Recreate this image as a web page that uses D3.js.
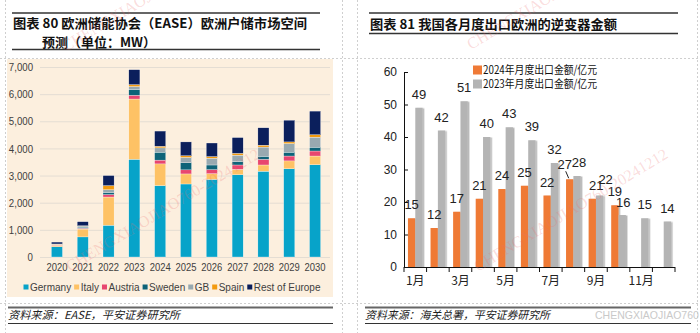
<!DOCTYPE html>
<html lang="zh">
<head>
<meta charset="UTF-8">
<title>欧洲户储市场空间与逆变器出口</title>
<script src="https://d3js.org/d3.v7.min.js"></script>
<style>
    body { margin: 0; background: #fff; }
    svg { display: block; font-family: "Liberation Sans", Arial, sans-serif; }
    .title { font-family: "Noto Sans CJK SC", sans-serif; font-weight: bold; font-size: 13px; fill: #111; }
    .source { font-family: "Noto Sans CJK SC", sans-serif; font-style: italic; font-size: 11px; fill: #222; }
    .frame { stroke: #cfcfcf; stroke-dasharray: 2,2; fill: none; }
    .watermark { font-family: "Liberation Serif", serif; font-size: 16px; fill: rgba(236, 110, 110, 0.24); }
    .left-axis text { font-family: "Liberation Sans", Arial, sans-serif; font-size: 11.5px; fill: #404040; }
    .right-axis text { font-family: "Liberation Sans", Arial, sans-serif; font-size: 12px; fill: #222; }
    .bar-label { font-size: 13px; fill: #222; text-anchor: middle; }
</style>
</head>
<body>
<svg width="700" height="333"></svg>
<script>
// European residential storage outlook (MW)
const years = ["2020", "2021", "2022", "2023", "2024", "2025", "2026", "2027", "2028", "2029", "2030"];
const germany = [380, 740, 1170, 3600, 2630, 2690, 2860, 3030, 3160, 3250, 3400];
const italy = [50, 290, 1040, 2220, 800, 370, 210, 200, 230, 290, 320];
const austria = [15, 30, 90, 140, 140, 150, 150, 160, 210, 180, 185];
const sweden = [10, 40, 80, 210, 290, 260, 170, 120, 110, 140, 140];
const gb = [15, 40, 100, 110, 160, 200, 250, 240, 340, 320, 370];
const spain = [10, 10, 150, 70, 60, 60, 60, 70, 70, 60, 90];
const restOfEurope = [70, 150, 370, 550, 560, 510, 500, 580, 640, 800, 870];
const countries = ["Germany", "Italy", "Austria", "Sweden", "GB", "Spain", "Rest of Europe"];
const storageTicks = [0, 1000, 2000, 3000, 4000, 5000, 6000, 7000];

// Monthly inverter exports to Europe (亿元)
const months = ["1月", "2月", "3月", "4月", "5月", "6月", "7月", "8月", "9月", "10月", "11月", "12月"];
const export2024 = [15, 12, 17, 21, 24, 25, 22, 27, 21, 19, null, null];
const export2023 = [49, 42, 51, 40, 43, 39, 32, 28, 22, 16, 15, 14];
const exportTicks = [0, 10, 20, 30, 40, 50, 60];
const exportSeries = ["2024年月度出口金额/亿元", "2023年月度出口金额/亿元"];

const countryColors = ["#07a3c9", "#fec265", "#e8466f", "#0d6378", "#98a9b0", "#f39a0e", "#0b1f5c"];
const seriesColors = ["#ef7a36", "#b4b4b4"];

const svg = d3.select("svg");

// drop shadow used on the monthly bars
svg.append("defs").append("filter")
    .attr("id", "shadow")
    .attr("x", "-20%").attr("y", "-5%").attr("width", "160%").attr("height", "110%")
    .append("feDropShadow")
    .attr("dx", 1.5).attr("dy", 0.5).attr("stdDeviation", 0.4)
    .attr("flood-color", "#000").attr("flood-opacity", 0.3);

// dotted page frame
[5, 342, 357, 697].forEach(x => {
    svg.append("line").attr("class", "frame")
        .attr("x1", x + 0.5).attr("x2", x + 0.5).attr("y1", 0).attr("y2", 333);
});
[58, 303].forEach(y => {
    svg.append("line").attr("class", "frame")
        .attr("x1", 0).attr("x2", 700).attr("y1", y + 0.5).attr("y2", y + 0.5);
});

function rule(x1, x2, y, w, color) {
    svg.append("line")
        .attr("x1", x1).attr("x2", x2).attr("y1", y).attr("y2", y)
        .attr("stroke", color).attr("stroke-width", w);
}

// text fitted to a fixed run length
function fitted(cls, x, y, str, len) {
    return svg.append("text").attr("class", cls).attr("x", x).attr("y", y)
        .attr("textLength", len).attr("lengthAdjust", "spacingAndGlyphs")
        .text(str);
}

// squeeze axis labels horizontally, like a narrow face
function narrow(sel, k) {
    sel.each(function () {
        const w = this.getComputedTextLength();
        d3.select(this).attr("textLength", w * k).attr("lengthAdjust", "spacingAndGlyphs");
    });
}

// ---------- left panel: stacked bars ----------
rule(12, 320, 13, 1.5, "#333");
rule(12, 320, 49.5, 1.5, "#333");
fitted("title", 13, 28, "图表 80  欧洲储能协会（EASE）欧洲户储市场空间", 294);
svg.append("text").attr("class", "title").attr("x", 42).attr("y", 47)
    .text("预测（单位：MW）");

svg.append("rect")
    .attr("x", 7).attr("y", 59).attr("width", 326).attr("height", 238)
    .attr("fill", "#fcefde");

const storageRows = years.map((y, i) => ({
    year: y,
    Germany: germany[i], Italy: italy[i], Austria: austria[i], Sweden: sweden[i],
    GB: gb[i], Spain: spain[i], "Rest of Europe": restOfEurope[i]
}));
const stacked = d3.stack().keys(countries)(storageRows);

const xLeft = d3.scaleBand().domain(years).range([44, 328]).paddingInner(0.57).paddingOuter(0.285);
const yLeft = d3.scaleLinear().domain([0, 7000]).range([257, 67]);

svg.append("g")
    .attr("class", "left-axis")
    .attr("transform", "translate(40,0)")
    .call(d3.axisLeft(yLeft).tickValues(storageTicks).tickFormat(d3.format(",")).tickSize(-290).tickPadding(7))
    .call(g => g.select(".domain").remove())
    .call(g => g.selectAll(".tick line").attr("stroke", "#e4ddd3"))
    .call(g => narrow(g.selectAll("text"), 0.84));

svg.append("g")
    .selectAll("g")
    .data(stacked)
    .join("g")
    .attr("fill", (d, i) => countryColors[i])
    .selectAll("rect")
    .data(d => d)
    .join("rect")
    .attr("x", d => xLeft(d.data.year))
    .attr("width", xLeft.bandwidth())
    .attr("y", d => yLeft(d[1]))
    .attr("height", d => yLeft(d[0]) - yLeft(d[1]))
    .attr("stroke", "#fff")
    .attr("stroke-width", 0.3);

svg.append("g")
    .attr("class", "left-axis")
    .attr("transform", "translate(0,257)")
    .call(d3.axisBottom(xLeft).tickSize(0).tickPadding(6))
    .call(g => g.select(".domain").remove())
    .call(g => g.selectAll("text").style("font-size", "11.5px").attr("fill", "#333"))
    .call(g => narrow(g.selectAll("text"), 0.82));

// legend, laid out left to right and centred under the plot
const legend = svg.append("g");
let lx = 0;
countries.forEach((c, i) => {
    const item = legend.append("g").attr("transform", `translate(${lx},0)`);
    item.append("rect").attr("x", 0).attr("y", -2.5).attr("width", 5).attr("height", 5)
        .attr("fill", countryColors[i]);
    const t = item.append("text").attr("x", 6.5).attr("y", 3.5)
        .style("font-size", "10px").attr("fill", "#404040").text(c);
    lx += 6.5 + t.node().getComputedTextLength() + 3;
});
legend.attr("transform", `translate(${172 - (lx - 3) / 2},287)`);

rule(8, 333, 307.5, 2, "#666");
rule(8, 333, 323.5, 1, "#333");
fitted("source", 8, 319, "资料来源：EASE，平安证券研究所", 172);

// ---------- right panel: monthly exports ----------
rule(369, 678, 13, 1.5, "#333");
rule(369, 678, 33.5, 1.5, "#333");
fitted("title", 370, 28.5, "图表 81  我国各月度出口欧洲的逆变器金额", 247);

const xRight = d3.scaleBand().domain(months).range([404, 675]).paddingInner(0.35).paddingOuter(0.175);
const xSeries = d3.scaleBand().domain([0, 1]).range([0, xRight.bandwidth()]);
const yRight = d3.scaleLinear().domain([0, 60]).range([267, 72]);

svg.append("g")
    .attr("class", "right-axis")
    .attr("transform", "translate(404,0)")
    .call(d3.axisLeft(yRight).tickValues(exportTicks).tickSizeInner(-4).tickSizeOuter(0).tickPadding(7))
    .call(g => g.selectAll("line, path").attr("stroke", "#111"));

const monthRows = months.map((m, i) => [
    { month: m, s: 0, v: export2024[i] },
    { month: m, s: 1, v: export2023[i] }
]).flat().filter(d => d.v !== null);

svg.append("g")
    .selectAll("rect")
    .data(monthRows)
    .join("rect")
    .attr("x", d => xRight(d.month) + xSeries(d.s))
    .attr("width", xSeries.bandwidth())
    .attr("y", d => yRight(d.v))
    .attr("height", d => yRight(0) - yRight(d.v))
    .attr("fill", d => seriesColors[d.s])
    .attr("filter", "url(#shadow)");

// labels that would collide are shifted sideways
const labelShift = { "8月-0": [-5, -1], "8月-1": [2, 0], "9月-0": [4, 0], "9月-1": [6, -3], "10月-1": [1, 1] };
const shift = d => labelShift[d.month + "-" + d.s] || [0, 0];
svg.append("g")
    .selectAll("text")
    .data(monthRows)
    .join("text")
    .attr("class", "bar-label")
    .attr("x", d => xRight(d.month) + xSeries(d.s) + xSeries.bandwidth() / 2 + shift(d)[0])
    .attr("y", d => yRight(d.v) - 9 + shift(d)[1])
    .text(d => d.v);

// leader line from the shifted August label to its bar
const augX = xRight("8月") + xSeries(0) + xSeries.bandwidth() / 2;
svg.append("line")
    .attr("x1", augX - 4).attr("y1", yRight(27) - 8)
    .attr("x2", augX - 1).attr("y2", yRight(27) - 1)
    .attr("stroke", "#222").attr("stroke-width", 1);

// x axis: boundary ticks at every month, labels on odd months
svg.append("line")
    .attr("x1", 404).attr("x2", 675).attr("y1", 267.5).attr("y2", 267.5)
    .attr("stroke", "#111");
svg.append("g")
    .selectAll("line")
    .data(d3.range(months.length + 1))
    .join("line")
    .attr("x1", i => 404 + i * xRight.step()).attr("x2", i => 404 + i * xRight.step())
    .attr("y1", 267).attr("y2", 272)
    .attr("stroke", "#111");
svg.append("g")
    .attr("class", "right-axis")
    .attr("transform", "translate(0,267)")
    .call(d3.axisBottom(xRight).tickValues(months.filter((m, i) => i % 2 === 0)).tickSize(0).tickPadding(9))
    .call(g => g.select(".domain").remove())
    .call(g => g.selectAll("text").style("font-family", "'Noto Sans CJK SC', sans-serif").style("font-size", "12px"));

// series legend
exportSeries.forEach((s, i) => {
    const ly = 70 + i * 14;
    svg.append("rect").attr("x", 473).attr("y", ly - 4.5).attr("width", 9).attr("height", 9)
        .attr("fill", seriesColors[i]);
    svg.append("text").attr("x", 483).attr("y", ly + 4)
        .attr("textLength", 114).attr("lengthAdjust", "spacingAndGlyphs")
        .style("font-family", "'Noto Sans CJK SC', sans-serif").style("font-size", "11.5px")
        .attr("fill", "#111").text(s);
});

rule(365, 691, 307.5, 2, "#666");
rule(365, 691, 323.5, 1, "#333");
fitted("source", 365, 319, "资料来源：海关总署，平安证券研究所", 185);
svg.append("text").attr("x", 595).attr("y", 319)
    .style("font-size", "10.5px").attr("fill", "#c9c9c9").text("CHENGXIAOJIAO760");

// diagonal watermarks
[[70, 272], [478, 272], [66, 52], [471, 50]].forEach(([x, y]) => {
    svg.append("text").attr("class", "watermark")
        .attr("transform", `translate(${x},${y}) rotate(-31)`)
        .text("CHENGXIAOJIAO760-20241212");
});
</script>
</body>
</html>
